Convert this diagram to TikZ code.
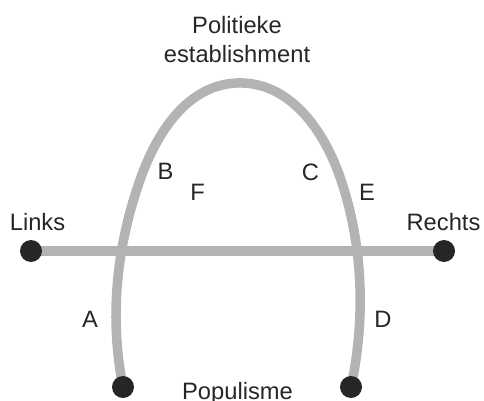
\documentclass[tikz,border=0pt]{standalone}
\usepackage{fontspec}
\setmainfont{Liberation Sans}
\usetikzlibrary{hobby}
\definecolor{linegray}{HTML}{B3B3B3}
\definecolor{ink}{HTML}{262626}
\begin{document}
\begin{tikzpicture}[x=1pt,y=-1pt,
  bar/.style={draw=linegray,line width=9.5pt},
  dot/.style={circle,fill=ink,inner sep=0pt,minimum size=22pt},
  lbl/.style={text=ink,anchor=base,inner sep=0pt,font=\fontsize{23.7}{28}\selectfont}]
\useasboundingbox (0,0) rectangle (484,401);
\coordinate (l) at (31,251);
\coordinate (r) at (444,251);
\coordinate (bl) at (123,387);
\coordinate (br) at (351,387);
\draw[bar] (l) -- (r);
\draw[bar,use Hobby shortcut] (bl) .. (116,313) .. (140,180) .. (237,83) .. (341,180) .. (360,313) .. (br);
\node[dot] (L) at (l) {};
\node[dot] (R) at (r) {};
\node[dot] (BL) at (bl) {};
\node[dot] (BR) at (br) {};
\node[lbl] (pol) at (237,34) {Politieke};
\node[lbl] (est) at (237,63) {establishment};
\node[lbl] (links) at (37.5,230) {Links};
\node[lbl] (rechts) at (443.5,230) {Rechts};
\node[lbl] (pop) at (237.5,399) {Populisme};
\node[lbl] (A) at (90,327) {A};
\node[lbl] (B) at (165.5,179) {B};
\node[lbl] (F) at (197.5,200) {F};
\node[lbl] (C) at (310.5,180) {C};
\node[lbl] (E) at (367,200.5) {E};
\node[lbl] (D) at (383,327) {D};
\end{tikzpicture}
\end{document}
